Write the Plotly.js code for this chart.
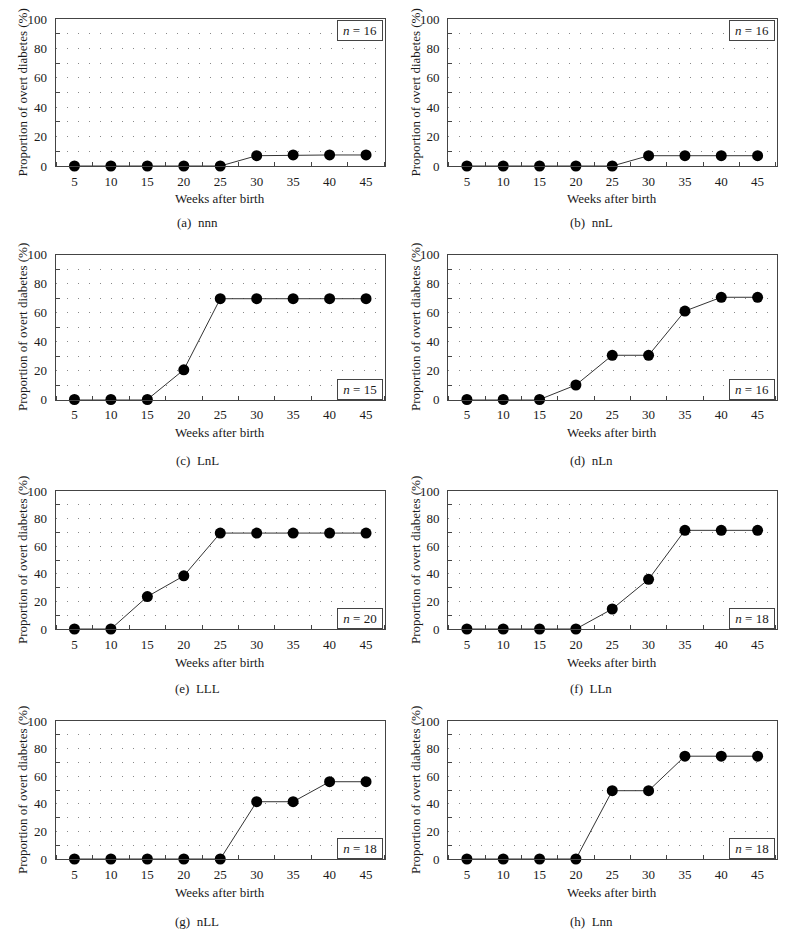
<!DOCTYPE html>
<html>
<head>
<meta charset="utf-8">
<script src="https://cdn.plot.ly/plotly-3.0.1.min.js"></script>
<style>html,body{margin:0;padding:0;background:#fff;}#chart{width:786px;height:933px;}</style>
</head>
<body>
<div id="chart"></div>
<script>
// ---- data ----
const weeks = [5, 10, 15, 20, 25, 30, 35, 40, 45];
const nnn = [0, 0, 0, 0, 0, 7, 7.5, 7.5, 7.5];
const nnL = [0, 0, 0, 0, 0, 7, 7, 7, 7];
const LnL = [0, 0, 0, 20.5, 69.5, 69.5, 69.5, 69.5, 69.5];
const nLn = [0, 0, 0, 10, 30.5, 30.5, 61, 70.5, 70.5];
const LLL = [0, 0, 23.5, 38.5, 69.5, 69.5, 69.5, 69.5, 69.5];
const LLn = [0, 0, 0, 0, 14.5, 36, 71.5, 71.5, 71.5];
const nLL = [0, 0, 0, 0, 0, 41.5, 41.5, 56, 56];
const Lnn = [0, 0, 0, 0, 49.5, 49.5, 74.5, 74.5, 74.5];
const seriesList = [nnn, nnL, LnL, nLn, LLL, LLn, nLL, Lnn];
const groupNames = ['nnn', 'nnL', 'LnL', 'nLn', 'LLL', 'LLn', 'nLL', 'Lnn'];
const panelLetters = ['a', 'b', 'c', 'd', 'e', 'f', 'g', 'h'];
const nValues = [16, 16, 15, 16, 20, 18, 18, 18];
const xTitle = 'Weeks after birth';
const yTitle = 'Proportion of overt diabetes (%)';

// ---- layout geometry (pixels) ----
const W = 786, H = 933;
const cols = [[55.5, 385], [448, 776.5]];
const rows = [[19, 166], [254.5, 399.5], [491, 629], [721, 859]];
const captionY = [222, 460.5, 688, 921];
const colCenters = [197, 591];
const yTitleX = [22, 415];
const boxTop = [true, true, false, false, false, false, false, false];

const FONT = 'Liberation Serif';
const TXT = '#1a1a1a';
const FRAME = '#444';

const data = [];
const layout = {
  width: W, height: H,
  margin: {l: 0, r: 0, t: 0, b: 0},
  paper_bgcolor: '#fff', plot_bgcolor: '#fff',
  showlegend: false,
  font: {family: FONT, color: TXT, size: 13},
  annotations: []
};

seriesList.forEach((vals, i) => {
  const c = i % 2, r = Math.floor(i / 2);
  const k = i + 1;
  const xa = 'xaxis' + (k === 1 ? '' : k), ya = 'yaxis' + (k === 1 ? '' : k);
  const xr = 'x' + (k === 1 ? '' : k), yr = 'y' + (k === 1 ? '' : k);
  data.push({
    x: weeks, y: vals, xaxis: xr, yaxis: yr,
    type: 'scatter', mode: 'lines+markers',
    line: {color: '#333', width: 1},
    marker: {color: '#000', size: 11},
    cliponaxis: false,
    hoverinfo: 'x+y'
  });
  layout[xa] = {
    domain: [cols[c][0] / W, cols[c][1] / W],
    anchor: yr,
    range: [2.4, 47.6],
    tick0: 0, dtick: 5,
    ticks: '',
    ticklabelstandoff: 3,
    tickfont: {family: FONT, size: 13, color: TXT},
    showgrid: false, zeroline: false,
    showline: true, mirror: true, linecolor: FRAME, linewidth: 1,
    minor: {dtick: 2.5, ticks: 'inside', ticklen: 4, tickcolor: FRAME, showgrid: false},
    fixedrange: true
  };
  layout[ya] = {
    domain: [1 - rows[r][1] / H, 1 - rows[r][0] / H],
    anchor: xr,
    range: [0, 100],
    tick0: 0, dtick: 20,
    ticks: '',
    ticklabelstandoff: 5,
    tickfont: {family: FONT, size: 13, color: TXT},
    showgrid: true, gridcolor: '#888', gridwidth: 1, griddash: '1px,10px',
    zeroline: false,
    showline: true, mirror: true, linecolor: FRAME, linewidth: 1,
    minor: {dtick: 10, ticks: 'inside', ticklen: 4, tickcolor: FRAME,
            showgrid: true, gridcolor: '#888', gridwidth: 1, griddash: '1px,10px'},
    fixedrange: true
  };
  // x title
  layout.annotations.push({
    xref: 'paper', yref: 'paper',
    x: (cols[c][0] + cols[c][1]) / 2 / W, y: 1 - rows[r][1] / H,
    yshift: -33, xanchor: 'center', yanchor: 'middle',
    text: xTitle, showarrow: false,
    font: {family: FONT, size: 13, color: TXT}
  });
  // y title
  layout.annotations.push({
    xref: 'paper', yref: 'paper',
    x: yTitleX[c] / W, y: 1 - (rows[r][0] + rows[r][1]) / 2 / H,
    xanchor: 'center', yanchor: 'middle', textangle: -90,
    text: yTitle, showarrow: false,
    font: {family: FONT, size: 13, color: TXT}
  });
  // caption
  layout.annotations.push({
    xref: 'paper', yref: 'paper',
    x: colCenters[c] / W, y: 1 - captionY[r] / H,
    xanchor: 'center', yanchor: 'middle',
    text: '(' + panelLetters[i] + ')\u00a0\u00a0' + groupNames[i], showarrow: false,
    font: {family: FONT, size: 13, color: TXT}
  });
  // n box
  layout.annotations.push({
    xref: xr + ' domain', yref: yr + ' domain',
    x: 1, y: boxTop[i] ? 1 : 0,
    xshift: -2, yshift: boxTop[i] ? -1 : 0,
    xanchor: 'right', yanchor: boxTop[i] ? 'top' : 'bottom',
    text: '<i>n</i> = ' + nValues[i], showarrow: false,
    width: 40, height: 15, borderpad: 2,
    bordercolor: FRAME, borderwidth: 1, bgcolor: '#fff',
    font: {family: FONT, size: 13, color: TXT}
  });
});

Plotly.newPlot('chart', data, layout, {displayModeBar: false, staticPlot: true});
</script>
</body>
</html>
